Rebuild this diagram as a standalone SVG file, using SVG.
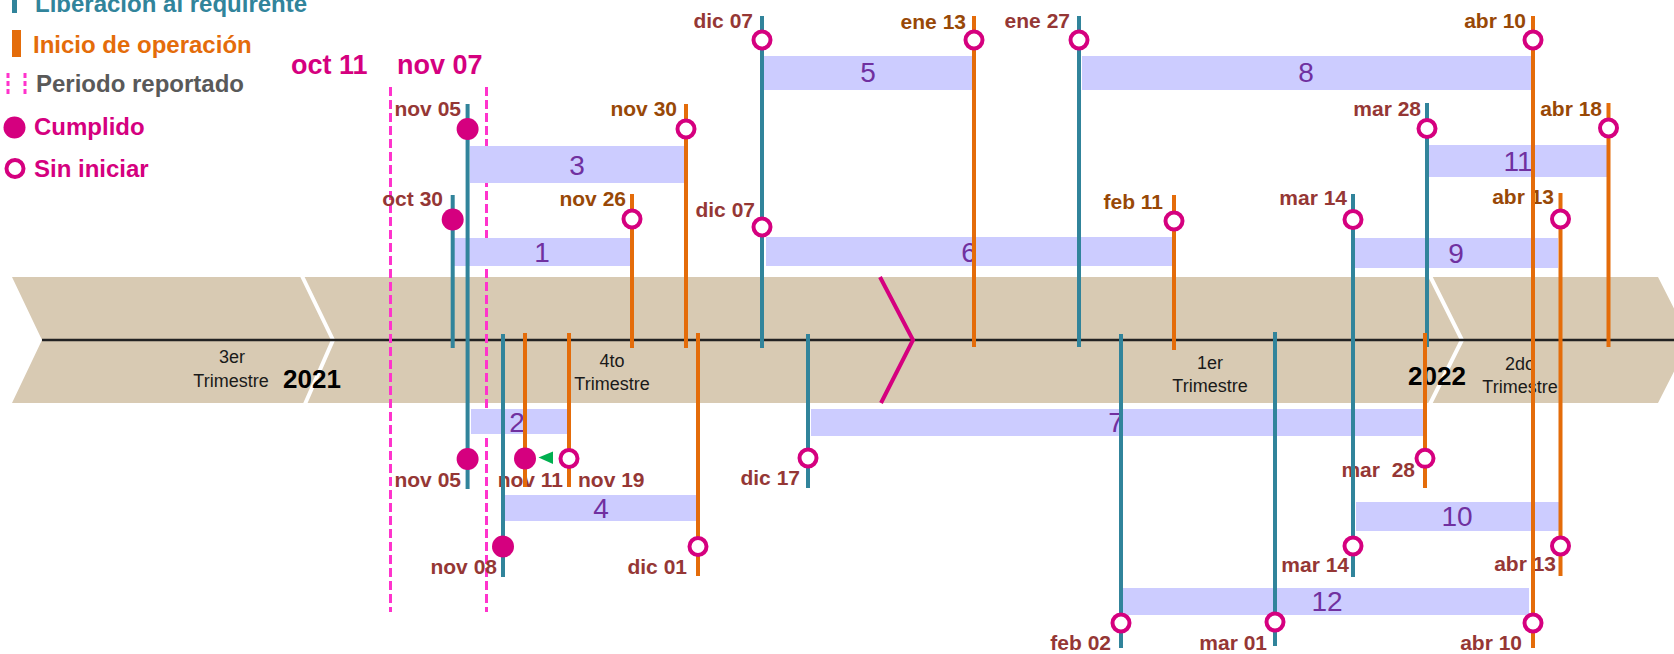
<svg xmlns="http://www.w3.org/2000/svg" width="1674" height="654" viewBox="0 0 1674 654">
<style>
text{font-family:"Liberation Sans",Arial,sans-serif}
.lg{font-size:24px;font-weight:bold}
.yr{font-size:27px;font-weight:bold;fill:#D5007F}
.q{font-size:18px;fill:#1a1a1a;text-anchor:middle}
.y{font-size:26px;font-weight:bold;fill:#000}
.bar{fill:#CCCCFF}
.num{font-size:28px;fill:#7030A0;text-anchor:middle}
.d{font-size:21px;font-weight:bold;text-anchor:end}
.r{fill:#953735}
.o{fill:#984807}
.tl{stroke:#31849B;stroke-width:4;fill:none}
.ol{stroke:#E46C0A;stroke-width:4;fill:none}
.f{fill:#D5007F}
.e{fill:#fff;stroke:#D5007F;stroke-width:4}
.pd{stroke:#FF33CC;stroke-width:3;stroke-dasharray:9 4;fill:none}
</style>
<g id="timeline">
<polygon points="12,277 1658,277 1690,340 1658,403 12,403 42,340" fill="#D8CAB3"/>
<polyline points="302,276 333,340 305,404" fill="none" stroke="#fff" stroke-width="4"/>
<polyline points="1430,276 1462,340 1430,404" fill="none" stroke="#fff" stroke-width="4"/>
<line x1="42" y1="340" x2="1674" y2="340" stroke="#222" stroke-width="2.5"/>
<polyline points="880,277 913,340 881,403" fill="none" stroke="#D5007F" stroke-width="4"/>
<text class="q" x="232" y="363">3er</text>
<text class="q" x="231" y="387">Trimestre</text>
<text class="y" x="283" y="388">2021</text>
<text class="q" x="612" y="367">4to</text>
<text class="q" x="612" y="390">Trimestre</text>
<text class="q" x="1210" y="369">1er</text>
<text class="q" x="1210" y="392">Trimestre</text>
<text class="y" x="1408" y="385">2022</text>
<text class="q" x="1520" y="370">2do</text>
<text class="q" x="1520" y="393">Trimestre</text>
</g>
<g id="legend">
<rect x="12" y="-2" width="5" height="15" fill="#31849B"/>
<text class="lg" x="35" y="12" fill="#31849B">Liberación al requirente</text>
<rect x="12" y="30" width="9" height="27" fill="#E46C0A"/>
<text class="lg" x="33" y="53" fill="#E46C0A">Inicio de operación</text>
<line class="pd" x1="8" y1="73" x2="8" y2="96" style="stroke-dasharray:5 3"/>
<line class="pd" x1="25" y1="73" x2="25" y2="96" style="stroke-dasharray:5 3"/>
<text class="lg" x="36" y="92" fill="#595959">Periodo reportado</text>
<circle class="f" cx="14.5" cy="127.5" r="11"/>
<text class="lg" x="34" y="135" fill="#D5007F">Cumplido</text>
<circle class="e" cx="15" cy="168.5" r="8.5"/>
<text class="lg" x="34" y="177" fill="#D5007F">Sin iniciar</text>
</g>
<g id="periodo">
<text class="yr" x="291" y="74">oct 11</text>
<text class="yr" x="397" y="74">nov 07</text>
<line class="pd" x1="390.5" y1="87" x2="390.5" y2="612"/>
<line class="pd" x1="486.5" y1="87" x2="486.5" y2="612"/>
</g>
<g id="task-1"><rect class="bar" x="454" y="238" width="176" height="28"/><text class="num" x="542" y="262">1</text></g>
<g id="task-2"><rect class="bar" x="471" y="409" width="96" height="25"/><text class="num" x="517" y="432">2</text></g>
<g id="task-3"><rect class="bar" x="470" y="146" width="214" height="37"/><text class="num" x="577" y="175">3</text></g>
<g id="task-4"><rect class="bar" x="505" y="495" width="191" height="26"/><text class="num" x="601" y="518">4</text></g>
<g id="task-5"><rect class="bar" x="764" y="56" width="208" height="34"/><text class="num" x="868" y="82">5</text></g>
<g id="task-6"><rect class="bar" x="766" y="237" width="406" height="29"/><text class="num" x="969" y="262">6</text></g>
<g id="task-7"><rect class="bar" x="811" y="409" width="612" height="27"/><text class="num" x="1116" y="432">7</text></g>
<g id="task-8"><rect class="bar" x="1082" y="56" width="450" height="34"/><text class="num" x="1306" y="82">8</text></g>
<g id="task-9"><rect class="bar" x="1354" y="238" width="204" height="30"/><text class="num" x="1456" y="263">9</text></g>
<g id="task-10"><rect class="bar" x="1356" y="502" width="204" height="29"/><text class="num" x="1457" y="526">10</text></g>
<g id="task-11"><rect class="bar" x="1428" y="145" width="179" height="32"/><text class="num" x="1518" y="171">11</text></g>
<g id="task-12"><rect class="bar" x="1123" y="588" width="406" height="27"/><text class="num" x="1327" y="611">12</text></g>
<g id="labels">
<text class="d r" x="753" y="28">dic 07</text>
<text class="d o" x="966" y="29">ene 13</text>
<text class="d r" x="1070" y="28">ene 27</text>
<text class="d o" x="1526" y="28">abr 10</text>
<text class="d r" x="461" y="116">nov 05</text>
<text class="d o" x="677" y="116">nov 30</text>
<text class="d r" x="1421" y="116">mar 28</text>
<text class="d o" x="1602" y="116">abr 18</text>
<text class="d r" x="443" y="206">oct 30</text>
<text class="d o" x="626" y="206">nov 26</text>
<text class="d r" x="755" y="217">dic 07</text>
<text class="d o" x="1163" y="209">feb 11</text>
<text class="d r" x="1347" y="205">mar 14</text>
<text class="d o" x="1554" y="204">abr 13</text>
<text class="d r" x="461" y="487">nov 05</text>
<text class="d r" x="563" y="487">nov 11</text>
<text class="d r" x="578" y="487" style="text-anchor:start">nov 19</text>
<text class="d r" x="800" y="485">dic 17</text>
<text class="d r" x="497" y="574">nov 08</text>
<text class="d r" x="687" y="574">dic 01</text>
<text class="d r" x="1415" y="477" xml:space="preserve">mar  28</text>
<text class="d r" x="1349" y="572">mar 14</text>
<text class="d r" x="1556" y="571">abr 13</text>
<text class="d r" x="1111" y="650">feb 02</text>
<text class="d r" x="1267" y="650">mar 01</text>
<text class="d r" x="1522" y="650">abr 10</text>
</g>
<g id="connectors">
<line class="tl" x1="452.7" y1="195" x2="452.7" y2="348"/>
<line class="tl" x1="467.6" y1="104" x2="467.6" y2="489"/>
<line class="tl" x1="503" y1="334" x2="503" y2="577"/>
<line class="tl" x1="762" y1="16" x2="762" y2="348"/>
<line class="tl" x1="808" y1="334" x2="808" y2="488"/>
<line class="tl" x1="1079" y1="16" x2="1079" y2="347"/>
<line class="tl" x1="1121" y1="334" x2="1121" y2="648"/>
<line class="tl" x1="1275" y1="332" x2="1275" y2="646"/>
<line class="tl" x1="1353" y1="194" x2="1353" y2="577"/>
<line class="tl" x1="1427" y1="103" x2="1427" y2="347"/>
<line class="ol" x1="525" y1="333" x2="525" y2="487"/>
<line class="ol" x1="569" y1="333" x2="569" y2="487"/>
<line class="ol" x1="632" y1="194" x2="632" y2="348"/>
<line class="ol" x1="686" y1="104" x2="686" y2="348"/>
<line class="ol" x1="698" y1="333" x2="698" y2="576"/>
<line class="ol" x1="974" y1="16" x2="974" y2="347"/>
<line class="ol" x1="1174" y1="195" x2="1174" y2="350"/>
<line class="ol" x1="1425" y1="333" x2="1425" y2="488"/>
<line class="ol" x1="1533" y1="16" x2="1533" y2="648"/>
<line class="ol" x1="1560.5" y1="193" x2="1560.5" y2="576"/>
<line class="ol" x1="1608.5" y1="103" x2="1608.5" y2="347"/>
<polygon points="538.5,457.5 553,451.5 553,464" fill="#00B050"/>
</g>
<g id="milestones">
<g id="m-oct30"><circle class="f" cx="452.7" cy="219.5" r="11"/></g>
<g id="m-nov05a"><circle class="f" cx="467.6" cy="129" r="11"/></g>
<g id="m-nov05b"><circle class="f" cx="467.6" cy="459" r="11"/></g>
<g id="m-nov11"><circle class="f" cx="525" cy="458.5" r="11"/></g>
<g id="m-nov08"><circle class="f" cx="503" cy="546.5" r="11"/></g>
<g id="m-nov26"><circle class="e" cx="632" cy="219" r="8.5"/></g>
<g id="m-nov30"><circle class="e" cx="686" cy="129" r="8.5"/></g>
<g id="m-nov19"><circle class="e" cx="569" cy="458.5" r="8.5"/></g>
<g id="m-dic01"><circle class="e" cx="698" cy="546.5" r="8.5"/></g>
<g id="m-dic17"><circle class="e" cx="808" cy="458" r="8.5"/></g>
<g id="m-dic07a"><circle class="e" cx="762" cy="40" r="8.5"/></g>
<g id="m-dic07b"><circle class="e" cx="762" cy="227" r="8.5"/></g>
<g id="m-ene13"><circle class="e" cx="974" cy="40" r="8.5"/></g>
<g id="m-ene27"><circle class="e" cx="1079" cy="40" r="8.5"/></g>
<g id="m-feb11"><circle class="e" cx="1174" cy="221" r="8.5"/></g>
<g id="m-mar14a"><circle class="e" cx="1353" cy="219.5" r="8.5"/></g>
<g id="m-mar28a"><circle class="e" cx="1427" cy="128.5" r="8.5"/></g>
<g id="m-abr10a"><circle class="e" cx="1533" cy="40" r="8.5"/></g>
<g id="m-abr18"><circle class="e" cx="1608.5" cy="128" r="8.5"/></g>
<g id="m-abr13a"><circle class="e" cx="1560.5" cy="219" r="8.5"/></g>
<g id="m-mar28b"><circle class="e" cx="1425" cy="458.3" r="8.5"/></g>
<g id="m-mar14b"><circle class="e" cx="1353" cy="546" r="8.5"/></g>
<g id="m-abr13b"><circle class="e" cx="1560.5" cy="546" r="8.5"/></g>
<g id="m-feb02"><circle class="e" cx="1121" cy="623" r="8.5"/></g>
<g id="m-mar01"><circle class="e" cx="1275" cy="622" r="8.5"/></g>
<g id="m-abr10b"><circle class="e" cx="1533" cy="623" r="8.5"/></g>
</g>
</svg>
